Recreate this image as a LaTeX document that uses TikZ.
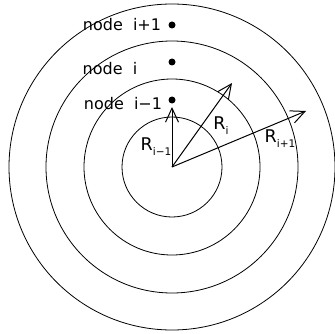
\documentclass[tikz,border=0pt]{standalone}
\usepackage{fontspec}
\setmainfont{DejaVu Sans}
\usetikzlibrary{arrows.meta}
\newcommand{\subtxt}[1]{\raisebox{-0.5ex}{\fontsize{10.5}{10.5}\selectfont #1}}
\begin{document}
\begin{tikzpicture}[x=1pt,y=-1pt,
  ring/.style={draw=black,line width=0.8pt},
  rarrow/.style={line width=1pt,-{Straight Barb[length=14pt,width=13pt,line width=1pt]}},
  dotnode/.style={circle,fill=black,inner sep=0pt,minimum size=7pt},
  lbl/.style={inner sep=0pt,font=\fontsize{16}{16}\selectfont},
  rlbl/.style={inner sep=0pt,font=\fontsize{17.5}{17.5}\selectfont}]
\useasboundingbox (0,0) rectangle (334,334);
\coordinate (c) at (172,167);
\draw[ring] (c) circle[radius=50];
\draw[ring] (c) circle[radius=88];
\draw[ring] (c) circle[radius=126];
\draw[ring] (c) circle[radius=163];
\coordinate (t1) at (172,107);
\coordinate (t2) at (232,83);
\coordinate (t3) at (306,111);
\draw[rarrow] (c) -- (t1);
\draw[rarrow] (c) -- (t2);
\draw[rarrow] (c) -- (t3);
\node[dotnode] (d1) at (172,25) {};
\node[dotnode] (d2) at (172,62) {};
\node[dotnode] (d3) at (172,100) {};
\node[lbl] (n1) at (122,25) {node\ \ i+1};
\node[lbl] (n2) at (110,69) {node\ \ i};
\node[lbl] (n3) at (123,104) {node\ \ i−1};
\node[rlbl] (r1) at (156,147) {R\subtxt{i−1}};
\node[rlbl] (r2) at (221,126) {R\subtxt{i}};
\node[rlbl] (r3) at (280,139) {R\subtxt{i+1}};
\end{tikzpicture}
\end{document}
